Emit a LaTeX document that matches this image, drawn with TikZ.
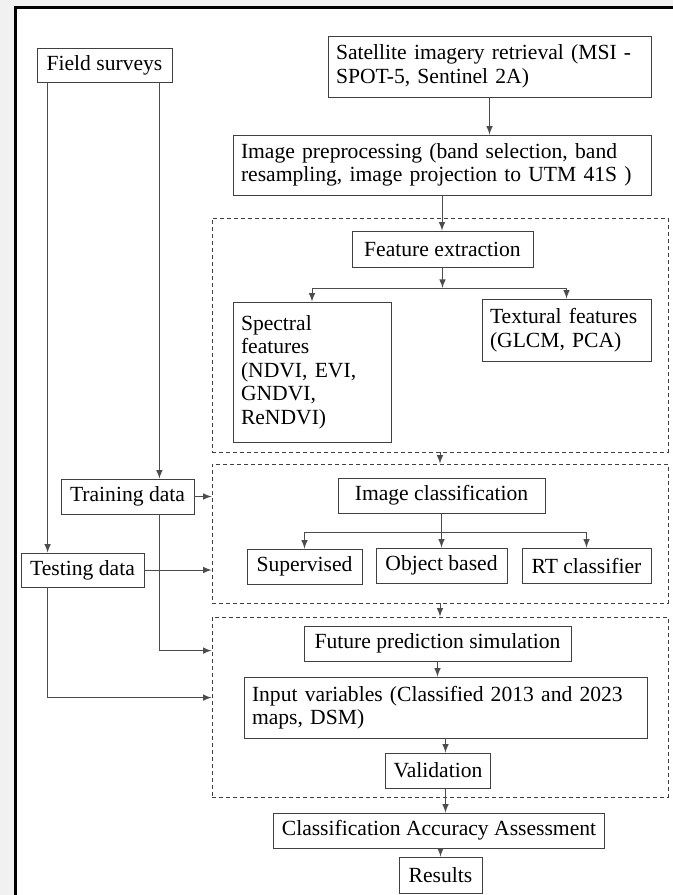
\documentclass[tikz,border=0pt]{standalone}
\usepackage{fontspec}
\setmainfont{Liberation Serif}
\usetikzlibrary{arrows}
\definecolor{margin}{RGB}{241,241,241}

\begin{document}
\begin{tikzpicture}[x=0.5pt,y=-0.5pt,
  box/.style={draw=black!75, fill=white, inner xsep=4pt, inner ysep=2pt,
    font=\fontsize{10.8}{11.75}\selectfont},
  grp/.style={draw=black!75, dash pattern=on 2pt off 1.5pt, inner sep=0pt,
    minimum width=228pt},
  flow/.style={->, >=latex, draw=black!70, line width=0.5pt}]
\useasboundingbox (0,0) rectangle (673,895);
\fill[margin] (0,0) rectangle (673,895);
\draw[line width=1.5pt, fill=white] (15.5,7.5) rectangle (690,910);

\node[grp, minimum height=117pt] (G1) at (440,335) {};
\node[grp, minimum height=69.5pt] (G2) at (440,533.5) {};
\node[grp, minimum height=90pt] (G3) at (440,707) {};

\node[box, minimum width=67.5pt, minimum height=17pt] (Field) at (104.5,65) {Field surveys};
\node[box, text width=153.5pt, align=left, minimum height=30.5pt] (Sat) at (489.5,66.5) {Satellite imagery retrieval (MSI -\\SPOT-5, Sentinel 2A)};
\node[box, text width=201pt, align=left, minimum height=30pt] (Pre) at (442,165) {Image preprocessing (band selection, band\\resampling, image projection to UTM 41S )};
\node[box, minimum width=90.5pt, minimum height=18pt] (FE) at (442.5,249) {Feature extraction};
\node[box, text width=71pt, align=left, minimum height=70pt] (Spec) at (312,372) {Spectral\\features\\(NDVI, EVI,\\GNDVI,\\ReNDVI)};
\node[box, text width=76.5pt, align=left, minimum height=31pt] (Tex) at (566.5,330) {Textural features\\(GLCM, PCA)};

\node[box, minimum width=66.5pt, minimum height=17.5pt] (Train) at (127.5,496.5) {Training data};
\node[box, minimum width=61.5pt, minimum height=17pt] (Test) at (82.5,570) {Testing data};
\node[box, minimum width=103.5pt, minimum height=17.5pt] (IC) at (441.5,495.5) {Image classification};
\node[box, minimum width=57.5pt, minimum height=17.5pt] (Sup) at (304.5,566.5) {Supervised};
\node[box, minimum width=65.5pt, minimum height=17.5pt] (Obj) at (441.5,565.5) {Object based};
\node[box, minimum width=64.5pt, minimum height=17.5pt] (RT) at (586.5,565.5) {RT classifier};

\node[box, minimum width=133.5pt, minimum height=17.5pt] (FPS) at (437.5,643.5) {Future prediction simulation};
\node[box, text width=193.5pt, align=left, minimum height=30.5pt] (IV) at (445.5,707.5) {Input variables (Classified 2013 and 2023\\maps, DSM)};
\node[box, minimum width=49pt, minimum height=17.5pt] (Val) at (438,770.5) {Validation};
\node[box, minimum width=163pt, minimum height=17.5pt] (CAA) at (439,830.5) {Classification Accuracy Assessment};
\node[box, minimum width=41.5pt, minimum height=18pt] (Res) at (440.5,875) {Results};

\coordinate (fsplit) at (442.5,288);
\coordinate (csplit) at (441.5,532);
\coordinate (fsL) at ([xshift=5.5pt]Field.south west);
\coordinate (fsR) at ([xshift=-6.5pt]Field.south east);
\coordinate (g3a) at ([yshift=-17pt]G3.north west);
\coordinate (g3b) at ([yshift=-40.5pt]G3.north west);

\draw[flow] (Sat.south) -- (Sat.south |- Pre.north);
\draw[flow] (Pre.south) -- (Pre.south |- FE.north);
\draw[flow] (FE.south) -- (fsplit);
\draw[flow] (fsplit) -| (Spec.north);
\draw[flow] (fsplit) -| (Tex.north);
\draw[flow] (G1.south) -- (G1.south |- G2.north);

\draw[flow] (IC.south) -- (IC.south |- Obj.north);
\draw[flow] (csplit) -| (Sup.north);
\draw[flow] (csplit) -| (RT.north);
\draw[flow] (G2.south) -- (G2.south |- G3.north);

\draw[flow] (FPS.south) -- (FPS.south |- IV.north);
\draw[flow] (IV.south) -- (IV.south |- Val.north);
\draw[flow] (IV.south |- Val.south) -- (IV.south |- CAA.north);
\draw[flow] (Res.north |- CAA.south) -- (Res.north);

\draw[flow] (fsL) -- (fsL |- Test.north);
\draw[flow] (fsR) -- (fsR |- Train.north);
\draw[flow] (Train.east) -- (Train.east -| G2.west);
\draw[flow] (Test.east) -- (Test.east -| G2.west);
\draw[flow] (fsR |- Train.south) |- (g3a);
\draw[flow] (fsL |- Test.south) |- (g3b);
\end{tikzpicture}
\end{document}
